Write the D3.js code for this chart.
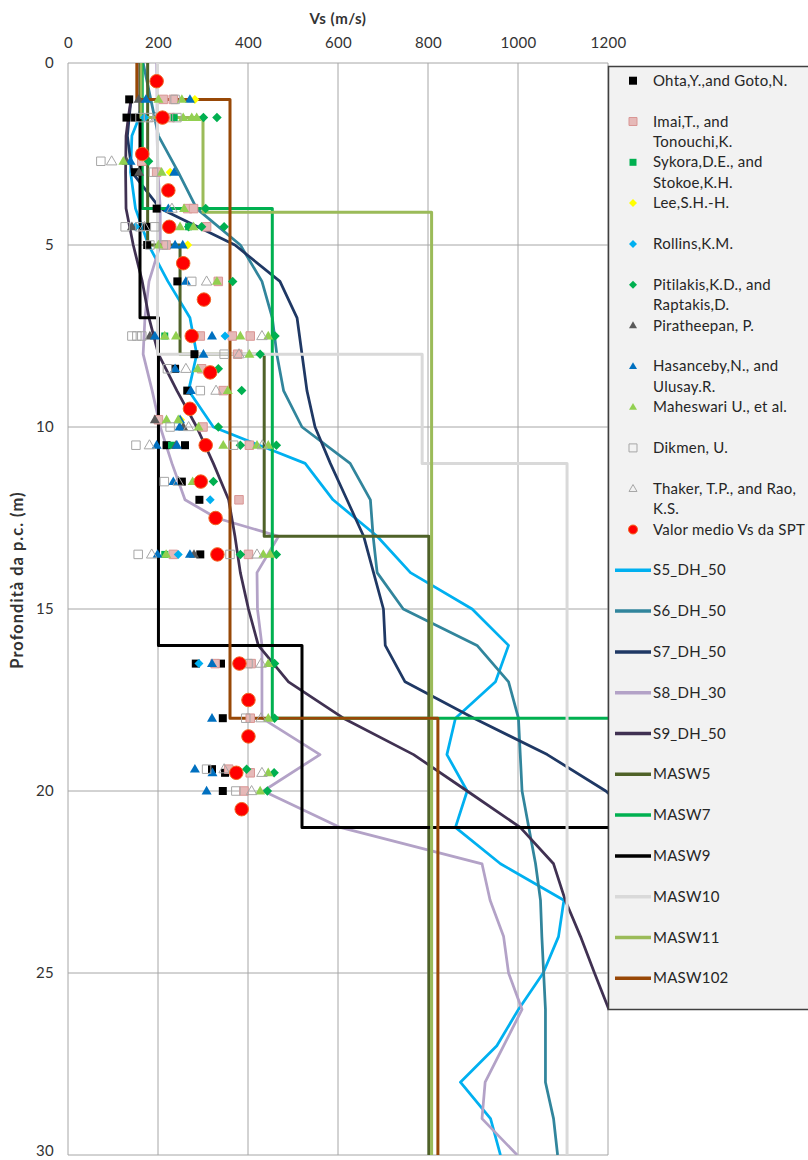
<!DOCTYPE html>
<html><head><meta charset="utf-8">
<script src="https://cdn.jsdelivr.net/npm/d3@7"></script>
<style>
body{margin:0;background:#fff;}
svg{display:block;font-family:Lato,'Open Sans',sans-serif;}
</style>
</head><body>
<svg id="chart" width="808" height="1160"></svg>
<script>
// ---------- axis ticks ----------
const vsTicks = [0,200,400,600,800,1000,1200];
const depthTicks = [0,5,10,15,20,25,30];

// ---------- SPT correlation points: [depth (m), Vs (m/s)] ----------
const ohta = [[1.0,136],[1.5,130],[1.5,149],[3.0,149],[4.0,197],[4.5,175],[5.0,176],[6.0,243],[8.0,281],[8.4,238],[9.0,265],[10.5,219],[10.5,260],[11.5,253],[12.0,292],[13.5,294],[16.5,284],[16.5,340],[18.0,344],[19.4,320],[19.5,349],[20.0,344]];
const imai = [[1.0,212],[1.0,234],[1.5,227],[2.7,164],[3.0,197],[4.0,266],[4.0,279],[4.5,308],[5.0,218],[6.0,334],[7.5,294],[7.5,365],[7.5,405],[8.0,377],[8.4,297],[9.0,345],[9.8,201],[10.0,300],[10.5,403],[12.0,380],[13.5,234],[13.5,401],[16.5,327],[16.5,407],[18.0,405],[19.4,357],[19.5,405],[20.0,391]];
const sykora = [[1.5,236],[4.5,268],[7.5,215],[10.5,230],[13.5,215]];
const lee = [[1.0,282],[3.0,227],[5.0,266],[9.8,250]];
const rollins = [[1.5,170],[4.5,150],[7.5,349],[12.0,316],[13.5,245],[16.5,291]];
const pitilakis = [[1.5,301],[1.5,331],[2.7,179],[4.0,306],[4.5,268],[4.5,297],[4.5,347],[6.0,366],[7.5,460],[8.0,427],[8.4,334],[9.0,386],[10.0,334],[10.5,383],[10.5,463],[11.5,323],[13.5,383],[13.5,463],[16.5,459],[18.0,459],[19.4,397],[19.5,458],[20.0,443]];
const piratheepan = [[1.0,157],[2.7,130],[3.0,158],[4.5,142],[7.5,182],[9.8,193],[10.0,256],[10.5,240],[13.5,280]];
const hasancebi = [[1.0,173],[1.0,271],[2.7,139],[3.0,236],[4.0,223],[5.0,238],[5.0,255],[6.0,262],[7.5,193],[7.5,320],[8.0,301],[8.4,238],[9.0,273],[9.8,249],[10.0,248],[10.5,197],[10.5,242],[11.5,234],[13.5,199],[13.5,271],[16.5,320],[18.0,320],[19.4,282],[19.5,321],[20.0,308]];
const maheswari = [[1.0,201],[1.0,253],[1.5,256],[1.5,275],[1.5,286],[2.7,123],[3.0,208],[4.0,258],[4.5,249],[4.5,279],[5.0,201],[6.0,331],[7.5,215],[7.5,240],[7.5,383],[7.5,445],[8.0,403],[8.4,288],[9.0,355],[9.8,219],[9.8,245],[10.0,290],[10.5,345],[10.5,420],[10.5,445],[11.5,277],[13.5,218],[13.5,434],[13.5,449],[16.5,445],[18.0,445],[19.5,445],[20.0,427]];
const dikmen = [[1.0,238],[1.5,160],[1.5,179],[1.5,242],[2.7,73],[3.0,190],[4.5,127],[4.5,160],[4.5,193],[5.0,182],[5.0,212],[6.0,275],[7.5,142],[7.5,153],[7.5,164],[8.0,347],[8.4,221],[9.0,294],[10.0,227],[10.5,151],[10.5,368],[11.5,214],[13.5,156],[13.5,360],[16.5,400],[18.0,395],[19.4,308],[20.0,373]];
const thaker = [[1.5,195],[2.7,97],[4.0,231],[4.5,170],[6.0,308],[7.5,431],[8.0,380],[8.4,262],[9.0,329],[10.0,268],[10.5,181],[10.5,432],[11.5,245],[13.5,186],[13.5,420],[16.5,429],[18.0,429],[19.4,347],[19.5,431],[20.0,408]];
const valorMedio = [[0.5,197],[1.5,210],[2.5,165],[3.5,223],[4.5,225],[5.5,256],[6.5,302],[7.5,275],[8.5,316],[9.5,271],[10.5,306],[11.5,295],[12.5,328],[13.5,332],[16.5,381],[17.5,401],[18.5,401],[19.5,374],[20.5,386]];

// ---------- downhole profiles: [depth, Vs] ----------
const s5_dh_50 = [[1,165],[1.5,158],[2,142],[3,139],[4,150],[5,179],[6,222],[7,271],[8,286],[9,268],[10,323],[11,527],[12,589],[13,687],[14,761],[15,898],[16,979],[17,950],[18,861],[19,842],[20,887],[21,861],[22,961],[23,1102],[24,1090],[25,1056],[26,1001],[27,953],[28,872],[29,939],[30,961]];
const s6_dh_50 = [[0,167],[1,184],[2,201],[3,245],[4,286],[5,383],[6,431],[7,454],[8,464],[9,479],[10,520],[11,627],[12,672],[13,678],[14,687],[15,745],[16,909],[17,979],[18,1001],[19,1005],[20,1009],[21,1024],[22,1039],[23,1050],[24,1053],[25,1057],[26,1061],[27,1061],[28,1061],[29,1079],[30,1088]];
const s7_dh_50 = [[1,140],[2,132],[3,142],[4,205],[5,371],[6,471],[7,509],[8,520],[9,531],[10,549],[11,583],[12,620],[13,657],[14,679],[15,701],[16,705],[17,749],[18,902],[19,1065],[20,1195],[21,1290]];
const s8_dh_30 = [[0,197],[1,198],[2,198],[3,200],[4,205],[5,205],[6,180],[7,171],[8,167],[9,187],[10,205],[11,231],[12,260],[12.5,330],[13,468],[14,420],[15,421],[16,431],[17,431],[18,431],[19,560],[20,434],[21,605],[22,920],[23,938],[24,968],[25,979],[26,1009],[27,968],[28,927],[29,920],[30,998]];
const s9_dh_50 = [[1,140],[1.5,134],[2,129],[3,128],[4,129],[5,145],[6,165],[7,180],[8,201],[9,242],[10,286],[11,323],[12,357],[13,371],[14,383],[15,401],[16,423],[17,490],[18,612],[19,768],[20,887],[21,1005],[22,1079],[23,1105],[24,1139],[25,1170],[26,1202],[27,1240]];

// ---------- MASW step profiles: [depth, Vs] ----------
const masw5 = [[0,177],[5,177],[5,249],[8,249],[8,436],[13,436],[13,802],[30,802]];
const masw7 = [[0,165],[4,165],[4,454],[18,454],[18,1300],[30,1300]];
const masw9 = [[0,160],[7,160],[7,201],[16,201],[16,520],[21,520],[21,1300],[30,1300]];
const masw10 = [[0,199],[8,199],[8,787],[11,787],[11,1109],[30,1109]];
const masw11 = [[0,162],[1.5,162],[1.5,300],[4.1,300],[4.1,808],[30,808]];
const masw102 = [[0,153],[1,153],[1,360],[18,360],[18,822],[30,822]];

// ---------- series definitions ----------
const markerSeries = [
  {name:["Ohta,Y.,and Goto,N."], data:ohta, shape:"square", size:8, fill:"#000000", stroke:"none"},
  {name:["Imai,T., and","Tonouchi,K."], data:imai, shape:"square", size:8.5, fill:"#e6b9b8", stroke:"#d99694"},
  {name:["Sykora,D.E., and","Stokoe,K.H."], data:sykora, shape:"square", size:7, fill:"#00b050", stroke:"none"},
  {name:["Lee,S.H.-H."], data:lee, shape:"diamond", size:9, fill:"#ffff00", stroke:"none"},
  {name:["Rollins,K.M."], data:rollins, shape:"diamond", size:9, fill:"#00b0f0", stroke:"none"},
  {name:["Pitilakis,K.D., and","Raptakis,D."], data:pitilakis, shape:"diamond", size:9.5, fill:"#00b050", stroke:"none"},
  {name:["Piratheepan, P."], data:piratheepan, shape:"triangle", size:10, fill:"#595959", stroke:"none"},
  {name:["Hasanceby,N., and","Ulusay.R."], data:hasancebi, shape:"triangle", size:10, fill:"#0070c0", stroke:"none"},
  {name:["Maheswari U., et al."], data:maheswari, shape:"triangle", size:10, fill:"#92d050", stroke:"none"},
  {name:["Dikmen, U."], data:dikmen, shape:"square", size:8.5, fill:"none", stroke:"#a6a6a6"},
  {name:["Thaker, T.P., and Rao,","K.S."], data:thaker, shape:"triangle", size:10.5, fill:"none", stroke:"#a6a6a6"},
  {name:["Valor medio Vs da SPT"], data:valorMedio, shape:"circle", size:13.5, fill:"#ff0000", stroke:"#f26522"}
];
const lineSeries = [
  {name:"S5_DH_50", data:s5_dh_50, color:"#00b0f0", width:2.75},
  {name:"S6_DH_50", data:s6_dh_50, color:"#31859c", width:2.75},
  {name:"S7_DH_50", data:s7_dh_50, color:"#1f3864", width:2.75},
  {name:"S8_DH_30", data:s8_dh_30, color:"#b3a2c7", width:2.75},
  {name:"S9_DH_50", data:s9_dh_50, color:"#403152", width:2.75},
  {name:"MASW5", data:masw5, color:"#4f6228", width:3},
  {name:"MASW7", data:masw7, color:"#00b050", width:3},
  {name:"MASW9", data:masw9, color:"#000000", width:3},
  {name:"MASW10", data:masw10, color:"#d9d9d9", width:3},
  {name:"MASW11", data:masw11, color:"#9bbb59", width:3},
  {name:"MASW102", data:masw102, color:"#984807", width:3}
];

// ---------- layout ----------
const svg = d3.select("#chart");
const L = 68, R = 608, T = 63, B = 1155;
const x = d3.scaleLinear().domain([0,1200]).range([L,R]);
const y = d3.scaleLinear().domain([0,30]).range([T,B]);

svg.append("rect").attr("width",808).attr("height",1160).attr("fill","#fff");

svg.append("defs").append("clipPath").attr("id","plotclip")
  .append("rect").attr("x",L).attr("y",T).attr("width",R-L).attr("height",B-T);

// grid
const grid = svg.append("g");
grid.selectAll("line.v").data(vsTicks).join("line")
  .attr("x1",d=>x(d)).attr("x2",d=>x(d)).attr("y1",T).attr("y2",B)
  .attr("stroke","#a6a6a6").attr("stroke-width",1);
grid.selectAll("line.h").data(depthTicks).join("line")
  .attr("x1",L).attr("x2",R).attr("y1",d=>y(d)).attr("y2",d=>y(d))
  .attr("stroke","#a6a6a6").attr("stroke-width",1);

// axes
const xAxis = svg.append("g").attr("transform",`translate(0,${T-15})`)
  .call(d3.axisTop(x).tickValues(vsTicks).tickSize(0).tickPadding(0).tickFormat(d3.format("d")));
xAxis.select(".domain").remove();
xAxis.selectAll("text").attr("font-size",15).attr("fill","#333").attr("font-family","Lato").attr("letter-spacing",0.3);

const yAxis = svg.append("g").attr("transform",`translate(${L-14},0)`)
  .call(d3.axisLeft(y).tickValues(depthTicks).tickSize(0).tickPadding(0).tickFormat(d3.format("d")));
yAxis.select(".domain").remove();
yAxis.selectAll("text").attr("font-size",15).attr("fill","#333").attr("font-family","Lato").attr("letter-spacing",0.3)
  .attr("dy",(d)=> d===30 ? "0.05em" : "0.32em");

svg.append("text").attr("x",338).attr("y",24).attr("text-anchor","middle")
  .attr("font-size",15).attr("font-weight","bold").attr("letter-spacing",0.5).attr("fill","#333").text("Vs (m/s)");
svg.append("text").attr("transform",`translate(23,580) rotate(-90)`).attr("text-anchor","middle")
  .attr("font-size",16.5).attr("font-weight","bold").attr("letter-spacing",1).attr("fill","#333").text("Profondità da p.c. (m)");

// lines
const lineGen = d3.line().x(d=>x(d[1])).y(d=>y(d[0]));
const plot = svg.append("g").attr("clip-path","url(#plotclip)");
lineSeries.forEach(s=>{
  plot.append("path").datum(s.data).attr("d",lineGen)
    .attr("fill","none").attr("stroke",s.color).attr("stroke-width",s.width)
    .attr("stroke-linejoin","round");
});

// markers
function markerPath(shape,size){
  if(shape==="square"){const h=size/2;return `M${-h},${-h}H${h}V${h}H${-h}Z`;}
  if(shape==="diamond"){const h=size/2;return `M0,${-h}L${h},0L0,${h}L${-h},0Z`;}
  if(shape==="triangle"){const h=size*0.866;return `M0,${-h*0.6}L${size/2},${h*0.4}L${-size/2},${h*0.4}Z`;}
  if(shape==="circle"){const r=size/2;return `M${r},0A${r},${r} 0 1,1 ${-r},0A${r},${r} 0 1,1 ${r},0Z`;}
}
markerSeries.forEach(s=>{
  plot.append("g").selectAll("path").data(s.data).join("path")
    .attr("d",markerPath(s.shape,s.size))
    .attr("transform",d=>`translate(${x(d[1])},${y(d[0])})`)
    .attr("fill",s.fill).attr("stroke",s.stroke).attr("stroke-width",s.stroke==="none"?0:1);
});

// legend
const lg = svg.append("g");
lg.append("rect").attr("x",608.5).attr("y",66.5).attr("width",210).attr("height",943)
  .attr("fill","#f2f2f2").attr("stroke","#404040").attr("stroke-width",1.5);
const step = 40.8, y0 = 80.7;
const allEntries = markerSeries.map(s=>({type:"m",s})).concat(lineSeries.map(s=>({type:"l",s})));
allEntries.forEach((e,i)=>{
  const cy = y0 + i*step;
  const g = lg.append("g");
  if(e.type==="m"){
    g.append("path").attr("d",markerPath(e.s.shape, e.s.shape==="circle"?9:Math.min(e.s.size,8)))
      .attr("transform",`translate(633,${cy})`)
      .attr("fill",e.s.fill).attr("stroke",e.s.stroke).attr("stroke-width",e.s.stroke==="none"?0:1);
    e.s.name.forEach((t,k)=>{
      g.append("text").attr("x",653).attr("y",cy+5+k*20.5).attr("font-size",15)
        .attr("letter-spacing",0.25).attr("fill","#262626").text(t);
    });
  } else {
    g.append("line").attr("x1",615).attr("x2",651).attr("y1",cy).attr("y2",cy)
      .attr("stroke",e.s.color).attr("stroke-width",3.5);
    g.append("text").attr("x",653).attr("y",cy+5).attr("font-size",15)
      .attr("letter-spacing",0.25).attr("fill","#262626").text(e.s.name);
  }
});
</script>
</body></html>
